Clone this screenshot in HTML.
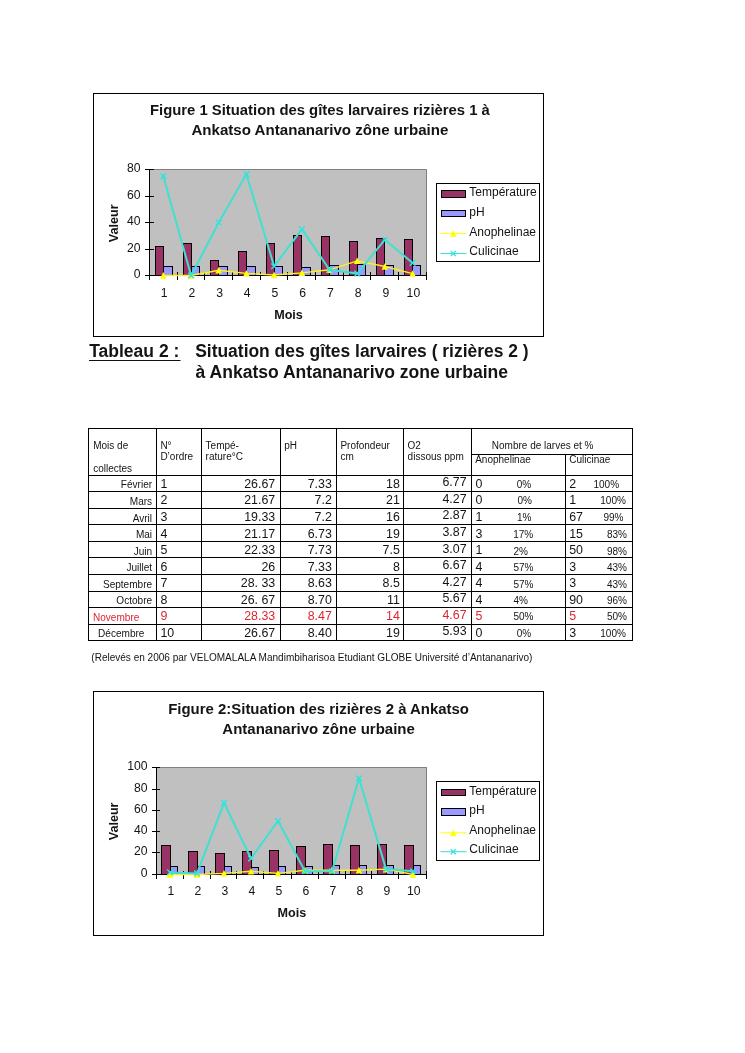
<!DOCTYPE html>
<html><head><meta charset="utf-8"><title>Page</title>
<style>
html,body{margin:0;padding:0;background:#fff;}
body{width:745px;height:1053px;position:relative;overflow:hidden;font-family:"Liberation Sans", sans-serif;color:#141414;}
svg{position:absolute;left:0;top:0;will-change:transform;}
svg text{font-family:"Liberation Sans", sans-serif;fill:#141414;}
</style></head><body>
<svg width="745" height="1053" viewBox="0 0 745 1053">
<rect x="93.5" y="93.5" width="450" height="243" fill="#fff" stroke="#000" stroke-width="1"/>
<text x="319.9" y="114.8" text-anchor="middle" font-weight="bold" font-size="14.85">Figure 1 Situation des gîtes larvaires rizières 1 à</text>
<text x="319.9" y="135.0" text-anchor="middle" font-weight="bold" font-size="15.1">Ankatso Antananarivo zône urbaine</text>
<rect x="149" y="169" width="278" height="107" fill="#c0c0c0"/>
<path d="M149 169.5H426.5V275" fill="none" stroke="#808080" stroke-width="1"/>
<rect x="155.5" y="246.5" width="8.0" height="29.0" fill="#993366" stroke="#000" stroke-width="1"/>
<rect x="163.5" y="266.5" width="9.0" height="9.0" fill="#9999ff" stroke="#000" stroke-width="1"/>
<rect x="183.5" y="243.5" width="8.0" height="32.0" fill="#993366" stroke="#000" stroke-width="1"/>
<rect x="191.5" y="266.5" width="8.0" height="9.0" fill="#9999ff" stroke="#000" stroke-width="1"/>
<rect x="210.5" y="260.5" width="8.0" height="15.0" fill="#993366" stroke="#000" stroke-width="1"/>
<rect x="218.5" y="266.5" width="9.0" height="9.0" fill="#9999ff" stroke="#000" stroke-width="1"/>
<rect x="238.5" y="251.5" width="8.0" height="24.0" fill="#993366" stroke="#000" stroke-width="1"/>
<rect x="246.5" y="266.5" width="9.0" height="9.0" fill="#9999ff" stroke="#000" stroke-width="1"/>
<rect x="266.5" y="243.5" width="8.0" height="32.0" fill="#993366" stroke="#000" stroke-width="1"/>
<rect x="274.5" y="266.5" width="8.0" height="9.0" fill="#9999ff" stroke="#000" stroke-width="1"/>
<rect x="293.5" y="235.5" width="8.0" height="40.0" fill="#993366" stroke="#000" stroke-width="1"/>
<rect x="301.5" y="267.5" width="9.0" height="8.0" fill="#9999ff" stroke="#000" stroke-width="1"/>
<rect x="321.5" y="236.5" width="8.0" height="39.0" fill="#993366" stroke="#000" stroke-width="1"/>
<rect x="329.5" y="265.5" width="9.0" height="10.0" fill="#9999ff" stroke="#000" stroke-width="1"/>
<rect x="349.5" y="241.5" width="8.0" height="34.0" fill="#993366" stroke="#000" stroke-width="1"/>
<rect x="357.5" y="264.5" width="8.0" height="11.0" fill="#9999ff" stroke="#000" stroke-width="1"/>
<rect x="376.5" y="238.5" width="8.0" height="37.0" fill="#993366" stroke="#000" stroke-width="1"/>
<rect x="384.5" y="265.5" width="9.0" height="10.0" fill="#9999ff" stroke="#000" stroke-width="1"/>
<rect x="404.5" y="239.5" width="8.0" height="36.0" fill="#993366" stroke="#000" stroke-width="1"/>
<rect x="412.5" y="265.5" width="8.0" height="10.0" fill="#9999ff" stroke="#000" stroke-width="1"/>
<path d="M149.5 169V280" stroke="#000" stroke-width="1" fill="none"/>
<path d="M145 275.5H427" stroke="#000" stroke-width="1" fill="none"/>
<path d="M145 275.5H154" stroke="#000" stroke-width="1"/>
<text x="140.5" y="278.0" text-anchor="end" font-size="12.2">0</text>
<path d="M145 249.5H154" stroke="#000" stroke-width="1"/>
<text x="140.5" y="252.0" text-anchor="end" font-size="12.2">20</text>
<path d="M145 222.5H154" stroke="#000" stroke-width="1"/>
<text x="140.5" y="225.0" text-anchor="end" font-size="12.2">40</text>
<path d="M145 196.5H154" stroke="#000" stroke-width="1"/>
<text x="140.5" y="199.0" text-anchor="end" font-size="12.2">60</text>
<path d="M145 169.5H154" stroke="#000" stroke-width="1"/>
<text x="140.5" y="172.0" text-anchor="end" font-size="12.2">80</text>
<path d="M149.5 272V280" stroke="#000" stroke-width="1"/>
<path d="M177.5 272V280" stroke="#000" stroke-width="1"/>
<path d="M204.5 272V280" stroke="#000" stroke-width="1"/>
<path d="M232.5 272V280" stroke="#000" stroke-width="1"/>
<path d="M260.5 272V280" stroke="#000" stroke-width="1"/>
<path d="M287.5 272V280" stroke="#000" stroke-width="1"/>
<path d="M315.5 272V280" stroke="#000" stroke-width="1"/>
<path d="M343.5 272V280" stroke="#000" stroke-width="1"/>
<path d="M370.5 272V280" stroke="#000" stroke-width="1"/>
<path d="M398.5 272V280" stroke="#000" stroke-width="1"/>
<path d="M426.5 272V280" stroke="#000" stroke-width="1"/>
<text x="164.2" y="297.3" text-anchor="middle" font-size="12.2">1</text>
<text x="191.9" y="297.3" text-anchor="middle" font-size="12.2">2</text>
<text x="219.6" y="297.3" text-anchor="middle" font-size="12.2">3</text>
<text x="247.2" y="297.3" text-anchor="middle" font-size="12.2">4</text>
<text x="274.9" y="297.3" text-anchor="middle" font-size="12.2">5</text>
<text x="302.7" y="297.3" text-anchor="middle" font-size="12.2">6</text>
<text x="330.3" y="297.3" text-anchor="middle" font-size="12.2">7</text>
<text x="358.1" y="297.3" text-anchor="middle" font-size="12.2">8</text>
<text x="385.8" y="297.3" text-anchor="middle" font-size="12.2">9</text>
<text x="413.4" y="297.3" text-anchor="middle" font-size="12.2">10</text>
<polyline fill="none" stroke="#fff020" stroke-width="1.4" stroke-linejoin="round" points="163.3,275.5 191.1,275.5 218.8,270.2 246.4,273.4 274.1,275.0 301.9,272.9 329.5,269.8 357.2,260.9 384.9,266.5 412.6,273.6"/>
<path d="M163.3 272.1L166.7 278.7H160.0Z" fill="#ffff00"/>
<path d="M191.1 272.1L194.4 278.7H187.8Z" fill="#ffff00"/>
<path d="M218.8 266.8L222.1 273.4H215.4Z" fill="#ffff00"/>
<path d="M246.4 270.0L249.8 276.6H243.1Z" fill="#ffff00"/>
<path d="M274.1 271.6L277.4 278.2H270.8Z" fill="#ffff00"/>
<path d="M301.9 269.5L305.2 276.1H298.6Z" fill="#ffff00"/>
<path d="M329.5 266.4L332.8 273.0H326.2Z" fill="#ffff00"/>
<path d="M357.2 257.5L360.6 264.1H353.9Z" fill="#ffff00"/>
<path d="M384.9 263.1L388.2 269.7H381.6Z" fill="#ffff00"/>
<path d="M412.6 270.2L415.9 276.8H409.3Z" fill="#ffff00"/>
<polyline fill="none" stroke="#40e0d0" stroke-width="2" stroke-linejoin="round" points="163.3,176.1 191.1,275.5 218.8,222.5 246.4,174.1 274.1,266.2 301.9,229.1 329.5,269.8 357.2,273.6 384.9,239.7 412.6,262.9"/>
<path d="M160.5 173.3L166.2 178.9M160.5 178.9L166.2 173.3" stroke="#30e4e0" stroke-width="1.4" fill="none"/>
<path d="M188.2 272.7L193.9 278.3M188.2 278.3L193.9 272.7" stroke="#30e4e0" stroke-width="1.4" fill="none"/>
<path d="M215.9 219.7L221.6 225.3M215.9 225.3L221.6 219.7" stroke="#30e4e0" stroke-width="1.4" fill="none"/>
<path d="M243.6 171.3L249.2 176.9M243.6 176.9L249.2 171.3" stroke="#30e4e0" stroke-width="1.4" fill="none"/>
<path d="M271.3 263.4L276.9 269.0M271.3 269.0L276.9 263.4" stroke="#30e4e0" stroke-width="1.4" fill="none"/>
<path d="M299.1 226.3L304.7 231.9M299.1 231.9L304.7 226.3" stroke="#30e4e0" stroke-width="1.4" fill="none"/>
<path d="M326.7 267.0L332.3 272.6M326.7 272.6L332.3 267.0" stroke="#30e4e0" stroke-width="1.4" fill="none"/>
<path d="M354.4 270.8L360.1 276.4M354.4 276.4L360.1 270.8" stroke="#30e4e0" stroke-width="1.4" fill="none"/>
<path d="M382.1 236.9L387.8 242.5M382.1 242.5L387.8 236.9" stroke="#30e4e0" stroke-width="1.4" fill="none"/>
<path d="M409.8 260.1L415.4 265.7M409.8 265.7L415.4 260.1" stroke="#30e4e0" stroke-width="1.4" fill="none"/>
<text x="288.5" y="319.1" text-anchor="middle" font-weight="bold" font-size="12.6">Mois</text>
<text transform="translate(118.2 223.3) rotate(-90)" text-anchor="middle" font-weight="bold" font-size="12.6">Valeur</text>
<rect x="436.5" y="183.5" width="103" height="78" fill="#fff" stroke="#000" stroke-width="1"/>
<text x="469.3" y="195.9" font-size="12">Température</text>
<text x="469.3" y="216.1" font-size="12">pH</text>
<text x="469.3" y="235.7" font-size="12">Anophelinae</text>
<text x="469.3" y="254.7" font-size="12">Culicinae</text>
<rect x="441.5" y="190.5" width="24" height="7" fill="#993366" stroke="#000" stroke-width="1"/>
<rect x="441.5" y="210.5" width="24" height="6" fill="#9999ff" stroke="#000" stroke-width="1"/>
<path d="M440.5 233.4H466.5" stroke="#ffff00" stroke-width="1"/>
<path d="M453.3 230.2L456.5 236.8H450.1Z" fill="#ffff00"/>
<path d="M440.5 253.5H466.5" stroke="#40e0d0" stroke-width="1.1"/>
<path d="M450.7 250.9L455.9 256.1M450.7 256.1L455.9 250.9" stroke="#30e4e0" stroke-width="1.3" fill="none"/>
<rect x="93.5" y="691.5" width="450" height="244" fill="#fff" stroke="#000" stroke-width="1"/>
<text x="318.6" y="713.8" text-anchor="middle" font-weight="bold" font-size="14.95">Figure 2:Situation des rizières 2 à Ankatso</text>
<text x="318.6" y="734.0" text-anchor="middle" font-weight="bold" font-size="15.0">Antananarivo zône urbaine</text>
<rect x="156" y="767" width="271" height="108" fill="#c0c0c0"/>
<path d="M156 767.5H426.5V874" fill="none" stroke="#808080" stroke-width="1"/>
<rect x="161.5" y="845.5" width="9.0" height="29.0" fill="#993366" stroke="#000" stroke-width="1"/>
<rect x="170.5" y="866.5" width="7.0" height="8.0" fill="#9999ff" stroke="#000" stroke-width="1"/>
<rect x="188.5" y="851.5" width="9.0" height="23.0" fill="#993366" stroke="#000" stroke-width="1"/>
<rect x="197.5" y="866.5" width="7.0" height="8.0" fill="#9999ff" stroke="#000" stroke-width="1"/>
<rect x="215.5" y="853.5" width="9.0" height="21.0" fill="#993366" stroke="#000" stroke-width="1"/>
<rect x="224.5" y="866.5" width="7.0" height="8.0" fill="#9999ff" stroke="#000" stroke-width="1"/>
<rect x="242.5" y="851.5" width="9.0" height="23.0" fill="#993366" stroke="#000" stroke-width="1"/>
<rect x="251.5" y="867.5" width="7.0" height="7.0" fill="#9999ff" stroke="#000" stroke-width="1"/>
<rect x="269.5" y="850.5" width="9.0" height="24.0" fill="#993366" stroke="#000" stroke-width="1"/>
<rect x="278.5" y="866.5" width="7.0" height="8.0" fill="#9999ff" stroke="#000" stroke-width="1"/>
<rect x="296.5" y="846.5" width="9.0" height="28.0" fill="#993366" stroke="#000" stroke-width="1"/>
<rect x="305.5" y="866.5" width="7.0" height="8.0" fill="#9999ff" stroke="#000" stroke-width="1"/>
<rect x="323.5" y="844.5" width="9.0" height="30.0" fill="#993366" stroke="#000" stroke-width="1"/>
<rect x="332.5" y="865.5" width="7.0" height="9.0" fill="#9999ff" stroke="#000" stroke-width="1"/>
<rect x="350.5" y="845.5" width="9.0" height="29.0" fill="#993366" stroke="#000" stroke-width="1"/>
<rect x="359.5" y="865.5" width="7.0" height="9.0" fill="#9999ff" stroke="#000" stroke-width="1"/>
<rect x="377.5" y="844.5" width="9.0" height="30.0" fill="#993366" stroke="#000" stroke-width="1"/>
<rect x="386.5" y="865.5" width="7.0" height="9.0" fill="#9999ff" stroke="#000" stroke-width="1"/>
<rect x="404.5" y="845.5" width="9.0" height="29.0" fill="#993366" stroke="#000" stroke-width="1"/>
<rect x="413.5" y="865.5" width="7.0" height="9.0" fill="#9999ff" stroke="#000" stroke-width="1"/>
<path d="M156.5 767V879" stroke="#000" stroke-width="1" fill="none"/>
<path d="M152 874.5H427" stroke="#000" stroke-width="1" fill="none"/>
<path d="M152 874.5H160" stroke="#000" stroke-width="1"/>
<text x="147.5" y="877.0" text-anchor="end" font-size="12.2">0</text>
<path d="M152 852.5H160" stroke="#000" stroke-width="1"/>
<text x="147.5" y="855.0" text-anchor="end" font-size="12.2">20</text>
<path d="M152 831.5H160" stroke="#000" stroke-width="1"/>
<text x="147.5" y="834.0" text-anchor="end" font-size="12.2">40</text>
<path d="M152 810.5H160" stroke="#000" stroke-width="1"/>
<text x="147.5" y="813.0" text-anchor="end" font-size="12.2">60</text>
<path d="M152 789.5H160" stroke="#000" stroke-width="1"/>
<text x="147.5" y="792.0" text-anchor="end" font-size="12.2">80</text>
<path d="M152 767.5H160" stroke="#000" stroke-width="1"/>
<text x="147.5" y="770.0" text-anchor="end" font-size="12.2">100</text>
<path d="M156.5 871V879" stroke="#000" stroke-width="1"/>
<path d="M183.5 871V879" stroke="#000" stroke-width="1"/>
<path d="M210.5 871V879" stroke="#000" stroke-width="1"/>
<path d="M236.5 871V879" stroke="#000" stroke-width="1"/>
<path d="M263.5 871V879" stroke="#000" stroke-width="1"/>
<path d="M291.5 871V879" stroke="#000" stroke-width="1"/>
<path d="M318.5 871V879" stroke="#000" stroke-width="1"/>
<path d="M345.5 871V879" stroke="#000" stroke-width="1"/>
<path d="M371.5 871V879" stroke="#000" stroke-width="1"/>
<path d="M398.5 871V879" stroke="#000" stroke-width="1"/>
<path d="M426.5 871V879" stroke="#000" stroke-width="1"/>
<text x="170.8" y="894.6" text-anchor="middle" font-size="12.2">1</text>
<text x="197.8" y="894.6" text-anchor="middle" font-size="12.2">2</text>
<text x="224.8" y="894.6" text-anchor="middle" font-size="12.2">3</text>
<text x="251.8" y="894.6" text-anchor="middle" font-size="12.2">4</text>
<text x="278.8" y="894.6" text-anchor="middle" font-size="12.2">5</text>
<text x="305.8" y="894.6" text-anchor="middle" font-size="12.2">6</text>
<text x="332.8" y="894.6" text-anchor="middle" font-size="12.2">7</text>
<text x="359.8" y="894.6" text-anchor="middle" font-size="12.2">8</text>
<text x="386.8" y="894.6" text-anchor="middle" font-size="12.2">9</text>
<text x="413.8" y="894.6" text-anchor="middle" font-size="12.2">10</text>
<polyline fill="none" stroke="#fff020" stroke-width="1.4" stroke-linejoin="round" points="170.0,874.5 197.0,874.5 224.0,873.4 251.0,871.3 278.0,873.4 305.0,870.2 332.0,870.2 359.0,870.2 386.0,869.1 413.0,874.5"/>
<path d="M170.0 871.1L173.3 877.7H166.7Z" fill="#ffff00"/>
<path d="M197.0 871.1L200.3 877.7H193.7Z" fill="#ffff00"/>
<path d="M224.0 870.0L227.3 876.6H220.7Z" fill="#ffff00"/>
<path d="M251.0 867.9L254.3 874.5H247.7Z" fill="#ffff00"/>
<path d="M278.0 870.0L281.3 876.6H274.7Z" fill="#ffff00"/>
<path d="M305.0 866.8L308.3 873.4H301.7Z" fill="#ffff00"/>
<path d="M332.0 866.8L335.3 873.4H328.7Z" fill="#ffff00"/>
<path d="M359.0 866.8L362.3 873.4H355.7Z" fill="#ffff00"/>
<path d="M386.0 865.8L389.3 872.4H382.7Z" fill="#ffff00"/>
<path d="M413.0 871.1L416.3 877.7H409.7Z" fill="#ffff00"/>
<polyline fill="none" stroke="#40e0d0" stroke-width="2" stroke-linejoin="round" points="170.0,872.4 197.0,873.4 224.0,802.8 251.0,858.5 278.0,821.0 305.0,871.3 332.0,871.3 359.0,778.2 386.0,869.1 413.0,871.3"/>
<path d="M167.2 869.6L172.8 875.2M167.2 875.2L172.8 869.6" stroke="#30e4e0" stroke-width="1.4" fill="none"/>
<path d="M194.2 870.6L199.8 876.2M194.2 876.2L199.8 870.6" stroke="#30e4e0" stroke-width="1.4" fill="none"/>
<path d="M221.2 800.0L226.8 805.6M221.2 805.6L226.8 800.0" stroke="#30e4e0" stroke-width="1.4" fill="none"/>
<path d="M248.2 855.7L253.8 861.2M248.2 861.2L253.8 855.7" stroke="#30e4e0" stroke-width="1.4" fill="none"/>
<path d="M275.2 818.2L280.8 823.8M275.2 823.8L280.8 818.2" stroke="#30e4e0" stroke-width="1.4" fill="none"/>
<path d="M302.2 868.5L307.8 874.1M302.2 874.1L307.8 868.5" stroke="#30e4e0" stroke-width="1.4" fill="none"/>
<path d="M329.2 868.5L334.8 874.1M329.2 874.1L334.8 868.5" stroke="#30e4e0" stroke-width="1.4" fill="none"/>
<path d="M356.2 775.4L361.8 781.0M356.2 781.0L361.8 775.4" stroke="#30e4e0" stroke-width="1.4" fill="none"/>
<path d="M383.2 866.4L388.8 871.9M383.2 871.9L388.8 866.4" stroke="#30e4e0" stroke-width="1.4" fill="none"/>
<path d="M410.2 868.5L415.8 874.1M410.2 874.1L415.8 868.5" stroke="#30e4e0" stroke-width="1.4" fill="none"/>
<text x="291.8" y="916.5" text-anchor="middle" font-weight="bold" font-size="12.6">Mois</text>
<text transform="translate(118.2 821.4) rotate(-90)" text-anchor="middle" font-weight="bold" font-size="12.6">Valeur</text>
<rect x="436.5" y="781.5" width="103" height="79" fill="#fff" stroke="#000" stroke-width="1"/>
<text x="469.3" y="794.5" font-size="12">Température</text>
<text x="469.3" y="813.8" font-size="12">pH</text>
<text x="469.3" y="833.6" font-size="12">Anophelinae</text>
<text x="469.3" y="853.4" font-size="12">Culicinae</text>
<rect x="441.5" y="789.5" width="24" height="6" fill="#993366" stroke="#000" stroke-width="1"/>
<rect x="441.5" y="808.5" width="24" height="7" fill="#9999ff" stroke="#000" stroke-width="1"/>
<path d="M440.5 832.8H466.5" stroke="#ffff00" stroke-width="1"/>
<path d="M453.3 829.6L456.5 836.2H450.1Z" fill="#ffff00"/>
<path d="M440.5 851.7H466.5" stroke="#40e0d0" stroke-width="1.1"/>
<path d="M450.7 849.1L455.9 854.3M450.7 854.3L455.9 849.1" stroke="#30e4e0" stroke-width="1.3" fill="none"/>
<path d="M88 428.5H633" stroke="#000" stroke-width="1"/>
<path d="M88 475.5H633" stroke="#000" stroke-width="1"/>
<path d="M88 491.5H633" stroke="#000" stroke-width="1"/>
<path d="M88 508.5H633" stroke="#000" stroke-width="1"/>
<path d="M88 524.5H633" stroke="#000" stroke-width="1"/>
<path d="M88 541.5H633" stroke="#000" stroke-width="1"/>
<path d="M88 557.5H633" stroke="#000" stroke-width="1"/>
<path d="M88 574.5H633" stroke="#000" stroke-width="1"/>
<path d="M88 591.5H633" stroke="#000" stroke-width="1"/>
<path d="M88 607.5H633" stroke="#000" stroke-width="1"/>
<path d="M88 624.5H633" stroke="#000" stroke-width="1"/>
<path d="M88 640.5H633" stroke="#000" stroke-width="1"/>
<path d="M471 454.5H633" stroke="#000" stroke-width="1"/>
<path d="M88.5 428V641" stroke="#000" stroke-width="1"/>
<path d="M156.5 428V641" stroke="#000" stroke-width="1"/>
<path d="M201.5 428V641" stroke="#000" stroke-width="1"/>
<path d="M280.5 428V641" stroke="#000" stroke-width="1"/>
<path d="M336.5 428V641" stroke="#000" stroke-width="1"/>
<path d="M403.5 428V641" stroke="#000" stroke-width="1"/>
<path d="M471.5 428V641" stroke="#000" stroke-width="1"/>
<path d="M565.5 454V641" stroke="#000" stroke-width="1"/>
<path d="M632.5 428V641" stroke="#000" stroke-width="1"/>
<text x="89.2" y="356.90" font-size="17.5" text-anchor="start" font-weight="bold">Tableau 2 :</text>
<path d="M89 360.5H180.5" stroke="#111" stroke-width="1.2"/>
<text x="195.2" y="356.90" font-size="17.45" text-anchor="start" font-weight="bold">Situation des gîtes larvaires ( rizières 2 )</text>
<text x="195.6" y="378.00" font-size="17.55" text-anchor="start" font-weight="bold">à Ankatso Antananarivo zone urbaine</text>
<text x="93.2" y="449.00" font-size="10" text-anchor="start">Mois de</text>
<text x="93.2" y="471.50" font-size="10" text-anchor="start">collectes</text>
<text x="160.4" y="449.00" font-size="10" text-anchor="start">N°</text>
<text x="160.4" y="459.80" font-size="10" text-anchor="start">D’ordre</text>
<text x="205.6" y="449.00" font-size="10" text-anchor="start">Tempé-</text>
<text x="205.6" y="459.80" font-size="10" text-anchor="start">rature°C</text>
<text x="284.2" y="449.00" font-size="10" text-anchor="start">pH</text>
<text x="340.4" y="449.00" font-size="10" text-anchor="start">Profondeur</text>
<text x="340.4" y="459.80" font-size="10" text-anchor="start">cm</text>
<text x="407.6" y="449.00" font-size="10" text-anchor="start">O2</text>
<text x="407.6" y="459.80" font-size="10" text-anchor="start">dissous ppm</text>
<text x="491.8" y="449.00" font-size="10" text-anchor="start">Nombre de larves et %</text>
<text x="475.2" y="463.20" font-size="10" text-anchor="start">Anophelinae</text>
<text x="569.2" y="463.20" font-size="10" text-anchor="start">Culicinae</text>
<text x="152.1" y="487.70" font-size="10.05" text-anchor="end">Février</text>
<text x="160.4" y="487.70" font-size="12.4" text-anchor="start">1</text>
<text x="275.2" y="487.70" font-size="12.4" text-anchor="end">26.67</text>
<text x="331.8" y="487.70" font-size="12.4" text-anchor="end">7.33</text>
<text x="399.8" y="487.70" font-size="12.4" text-anchor="end">18</text>
<text x="466.6" y="485.60" font-size="12.4" text-anchor="end">6.77</text>
<text x="475.6" y="487.70" font-size="12.4" text-anchor="start">0</text>
<text x="516.8" y="487.90" font-size="10" text-anchor="start">0%</text>
<text x="569.2" y="487.70" font-size="12.4" text-anchor="start">2</text>
<text x="593.5" y="487.90" font-size="10" text-anchor="start">100%</text>
<text x="152.1" y="504.60" font-size="10.05" text-anchor="end">Mars</text>
<text x="160.4" y="503.90" font-size="12.4" text-anchor="start">2</text>
<text x="275.2" y="503.90" font-size="12.4" text-anchor="end">21.67</text>
<text x="331.8" y="503.90" font-size="12.4" text-anchor="end">7.2</text>
<text x="399.8" y="503.90" font-size="12.4" text-anchor="end">21</text>
<text x="466.6" y="502.70" font-size="12.4" text-anchor="end">4.27</text>
<text x="475.6" y="503.90" font-size="12.4" text-anchor="start">0</text>
<text x="517.5" y="504.45" font-size="10" text-anchor="start">0%</text>
<text x="569.2" y="503.90" font-size="12.4" text-anchor="start">1</text>
<text x="600.3" y="504.45" font-size="10" text-anchor="start">100%</text>
<text x="152.1" y="521.70" font-size="10.05" text-anchor="end">Avril</text>
<text x="160.4" y="520.80" font-size="12.4" text-anchor="start">3</text>
<text x="275.2" y="520.80" font-size="12.4" text-anchor="end">19.33</text>
<text x="331.8" y="520.80" font-size="12.4" text-anchor="end">7.2</text>
<text x="399.8" y="520.80" font-size="12.4" text-anchor="end">16</text>
<text x="466.6" y="518.70" font-size="12.4" text-anchor="end">2.87</text>
<text x="475.6" y="520.80" font-size="12.4" text-anchor="start">1</text>
<text x="517.0" y="521.45" font-size="10" text-anchor="start">1%</text>
<text x="569.2" y="520.80" font-size="12.4" text-anchor="start">67</text>
<text x="603.5" y="521.45" font-size="10" text-anchor="start">99%</text>
<text x="152.1" y="537.80" font-size="10.05" text-anchor="end">Mai</text>
<text x="160.4" y="537.90" font-size="12.4" text-anchor="start">4</text>
<text x="275.2" y="537.90" font-size="12.4" text-anchor="end">21.17</text>
<text x="331.8" y="537.90" font-size="12.4" text-anchor="end">6.73</text>
<text x="399.8" y="537.90" font-size="12.4" text-anchor="end">19</text>
<text x="466.6" y="535.60" font-size="12.4" text-anchor="end">3.87</text>
<text x="475.6" y="537.90" font-size="12.4" text-anchor="start">3</text>
<text x="513.2" y="538.05" font-size="10" text-anchor="start">17%</text>
<text x="569.2" y="537.90" font-size="12.4" text-anchor="start">15</text>
<text x="607" y="538.05" font-size="10" text-anchor="start">83%</text>
<text x="152.1" y="554.90" font-size="10.05" text-anchor="end">Juin</text>
<text x="160.4" y="553.80" font-size="12.4" text-anchor="start">5</text>
<text x="275.2" y="553.80" font-size="12.4" text-anchor="end">22.33</text>
<text x="331.8" y="553.80" font-size="12.4" text-anchor="end">7.73</text>
<text x="399.8" y="553.80" font-size="12.4" text-anchor="end">7.5</text>
<text x="466.6" y="552.70" font-size="12.4" text-anchor="end">3.07</text>
<text x="475.6" y="553.80" font-size="12.4" text-anchor="start">1</text>
<text x="513.5" y="554.55" font-size="10" text-anchor="start">2%</text>
<text x="569.2" y="553.80" font-size="12.4" text-anchor="start">50</text>
<text x="607" y="554.55" font-size="10" text-anchor="start">98%</text>
<text x="152.1" y="570.80" font-size="10.05" text-anchor="end">Juillet</text>
<text x="160.4" y="570.80" font-size="12.4" text-anchor="start">6</text>
<text x="275.2" y="570.80" font-size="12.4" text-anchor="end">26</text>
<text x="331.8" y="570.80" font-size="12.4" text-anchor="end">7.33</text>
<text x="399.8" y="570.80" font-size="12.4" text-anchor="end">8</text>
<text x="466.6" y="568.70" font-size="12.4" text-anchor="end">6.67</text>
<text x="475.6" y="570.80" font-size="12.4" text-anchor="start">4</text>
<text x="513.5" y="571.00" font-size="10" text-anchor="start">57%</text>
<text x="569.2" y="570.80" font-size="12.4" text-anchor="start">3</text>
<text x="607" y="571.00" font-size="10" text-anchor="start">43%</text>
<text x="152.1" y="587.70" font-size="10.05" text-anchor="end">Septembre</text>
<text x="160.4" y="587.00" font-size="12.4" text-anchor="start">7</text>
<text x="275.2" y="587.00" font-size="12.4" text-anchor="end">28. 33</text>
<text x="331.8" y="587.00" font-size="12.4" text-anchor="end">8.63</text>
<text x="399.8" y="587.00" font-size="12.4" text-anchor="end">8.5</text>
<text x="466.6" y="585.80" font-size="12.4" text-anchor="end">4.27</text>
<text x="475.6" y="587.00" font-size="12.4" text-anchor="start">4</text>
<text x="513.5" y="587.55" font-size="10" text-anchor="start">57%</text>
<text x="569.2" y="587.00" font-size="12.4" text-anchor="start">3</text>
<text x="607" y="587.55" font-size="10" text-anchor="start">43%</text>
<text x="152.1" y="603.90" font-size="10.05" text-anchor="end">Octobre</text>
<text x="160.4" y="603.80" font-size="12.4" text-anchor="start">8</text>
<text x="275.2" y="603.80" font-size="12.4" text-anchor="end">26. 67</text>
<text x="331.8" y="603.80" font-size="12.4" text-anchor="end">8.70</text>
<text x="399.8" y="603.80" font-size="12.4" text-anchor="end">11</text>
<text x="466.6" y="601.60" font-size="12.4" text-anchor="end">5.67</text>
<text x="475.6" y="603.80" font-size="12.4" text-anchor="start">4</text>
<text x="513.5" y="604.05" font-size="10" text-anchor="start">4%</text>
<text x="569.2" y="603.80" font-size="12.4" text-anchor="start">90</text>
<text x="607" y="604.05" font-size="10" text-anchor="start">96%</text>
<text x="93.0" y="620.60" font-size="10.05" text-anchor="start" style="fill:#dc2632">Novembre</text>
<text x="160.4" y="619.50" font-size="12.4" text-anchor="start" style="fill:#dc2632">9</text>
<text x="275.2" y="619.50" font-size="12.4" text-anchor="end" style="fill:#dc2632">28.33</text>
<text x="331.8" y="619.50" font-size="12.4" text-anchor="end" style="fill:#dc2632">8.47</text>
<text x="399.8" y="619.50" font-size="12.4" text-anchor="end" style="fill:#dc2632">14</text>
<text x="466.6" y="618.70" font-size="12.4" text-anchor="end" style="fill:#dc2632">4.67</text>
<text x="475.6" y="619.50" font-size="12.4" text-anchor="start" style="fill:#dc2632">5</text>
<text x="513.5" y="620.25" font-size="10" text-anchor="start">50%</text>
<text x="569.2" y="619.50" font-size="12.4" text-anchor="start" style="fill:#dc2632">5</text>
<text x="607" y="620.25" font-size="10" text-anchor="start">50%</text>
<text x="98.1" y="636.60" font-size="10.05" text-anchor="start">Décembre</text>
<text x="160.4" y="636.60" font-size="12.4" text-anchor="start">10</text>
<text x="275.2" y="636.60" font-size="12.4" text-anchor="end">26.67</text>
<text x="331.8" y="636.60" font-size="12.4" text-anchor="end">8.40</text>
<text x="399.8" y="636.60" font-size="12.4" text-anchor="end">19</text>
<text x="466.6" y="634.70" font-size="12.4" text-anchor="end">5.93</text>
<text x="475.6" y="636.60" font-size="12.4" text-anchor="start">0</text>
<text x="516.8" y="636.80" font-size="10" text-anchor="start">0%</text>
<text x="569.2" y="636.60" font-size="12.4" text-anchor="start">3</text>
<text x="600.3" y="636.80" font-size="10" text-anchor="start">100%</text>
<text x="91.3" y="661.10" font-size="10.04" text-anchor="start">(Relevés en 2006 par VELOMALALA Mandimbiharisoa Etudiant GLOBE Université d’Antananarivo)</text>
</svg>
</body></html>
